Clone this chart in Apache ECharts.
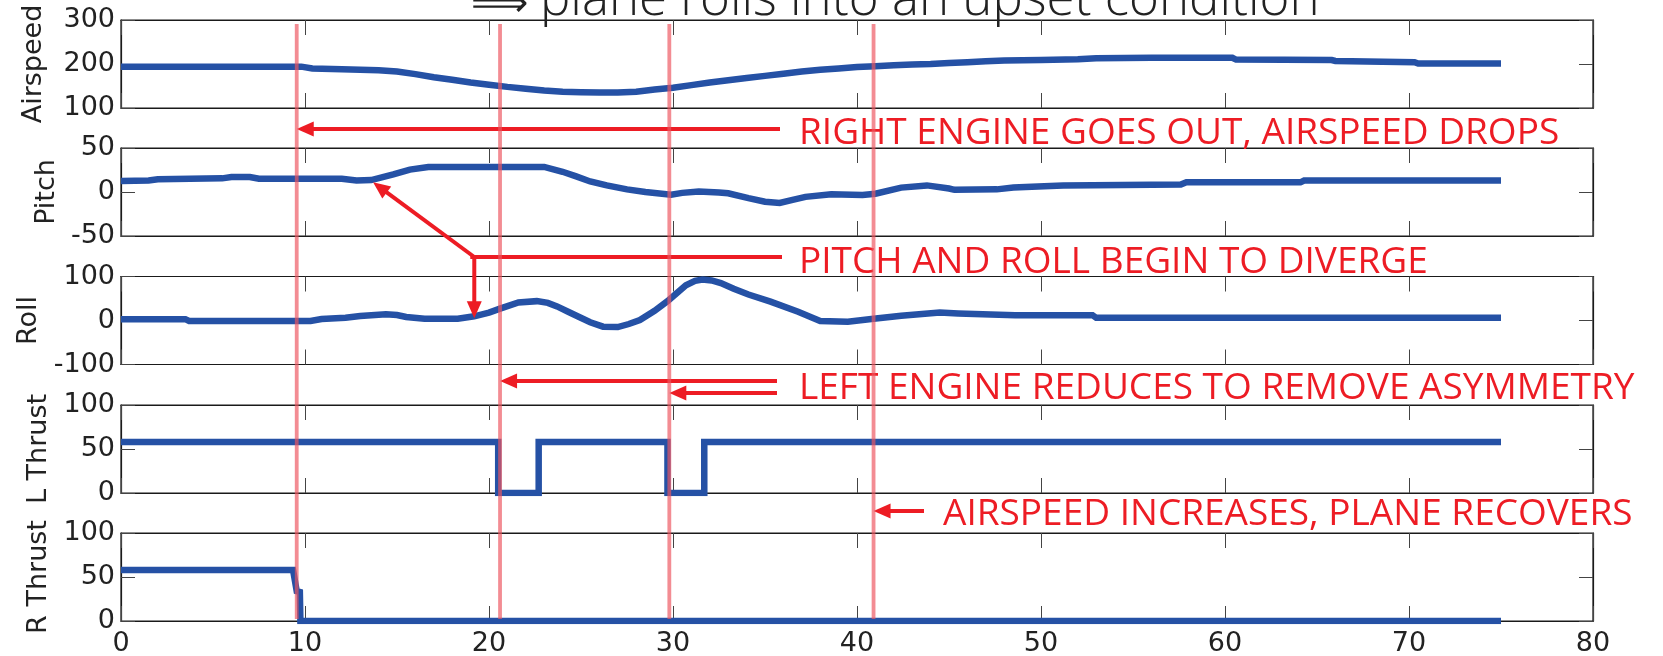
<!DOCTYPE html>
<html>
<head>
<meta charset="utf-8">
<script src="https://cdn.jsdelivr.net/npm/echarts@6/dist/echarts.min.js"></script>
<style>
  html, body { margin: 0; padding: 0; background: #ffffff; }
  #chart { width: 1663px; height: 656px; }
</style>
</head>
<body>
<div id="chart"></div>
<script>
// ---- flight record, time in seconds ----
const airspeedTime  = [0, 9.8, 10.4, 12, 14, 15, 16, 17, 18, 19, 20, 21, 22, 23, 24, 25, 26, 27, 28, 29, 30, 31, 32, 33, 34, 35, 36, 37, 38, 39, 40, 41, 42, 43, 44, 45, 46, 47, 48, 50, 52, 53, 56, 60.4, 60.6, 65.8, 66, 70.3, 70.5, 75];
const airspeedValue = [194, 194, 190, 188, 186, 183, 177, 170, 164, 158, 153, 148, 144, 140, 137, 136, 135, 135, 137, 142, 146, 152, 158, 163, 168, 173, 178, 183, 187, 190, 193, 195, 197, 199, 200, 202, 204, 206, 208, 209, 211, 213, 214, 214, 210, 209, 207, 204, 201, 201];

const pitchTime  = [0, 1.5, 2, 5.5, 6, 7, 7.5, 12, 12.8, 13.6, 14.8, 15.7, 16.7, 23, 24, 24.7, 25.5, 26.4, 27.5, 28.5, 29.9, 30.5, 31.4, 32.5, 33, 34.1, 35, 35.8, 36.5, 37.2, 38.6, 40.3, 41, 42.4, 43.8, 45, 45.3, 47.6, 48.5, 49.5, 51.2, 57.6, 57.9, 64.1, 64.3, 75];
const pitchValue = [12.5, 13, 14.5, 15.5, 17, 17, 15, 15, 13, 13.5, 20, 25.5, 28.5, 28.5, 23, 18, 12, 7.5, 3, 0, -3, -1, 0.5, -0.5, -1.5, -7, -11, -12.5, -9, -5.5, -2.5, -3.5, -2, 5, 7.5, 4, 2.5, 3, 5, 6, 7.5, 8.5, 11, 11, 13, 13];

const rollTime  = [0, 3.5, 3.7, 10.3, 10.9, 12.2, 13, 14.4, 15, 15.5, 16.5, 18.3, 19.2, 20, 20.6, 21.6, 22.6, 23.2, 23.7, 24.3, 24.9, 25.5, 26.2, 27, 27.6, 28.2, 29, 29.7, 30.2, 30.7, 31.2, 31.6, 32.1, 32.6, 33.3, 34.1, 35.3, 36.8, 38, 39.5, 40.9, 42.4, 44.5, 45.5, 48.6, 52.8, 53, 75];
const rollValue = [3, 3, -1, -1, 3.5, 6.5, 10, 14, 12.5, 8, 4, 4, 9.5, 18, 27, 41, 44, 40, 32, 20, 8, -4, -14, -15, -8, 1, 22, 44, 62, 80, 90, 93, 91, 85, 72, 59, 43, 20, -1, -3, 4, 11, 18, 16, 12, 12, 6, 6];

const leftThrustTime  = [0, 20.5, 20.5, 22.7, 22.7, 29.7, 29.7, 31.7, 31.7, 75];
const leftThrustValue = [58, 58, 0, 0, 58, 58, 0, 0, 58, 58];

const rightThrustTime  = [0, 9.35, 9.55, 9.72, 9.75, 75];
const rightThrustValue = [58, 58, 34, 33, 0, 0];

// event markers (s)
const eventTimes = [9.55, 20.6, 29.8, 40.9];

// panels
const panelNames  = ['Airspeed', 'Pitch', 'Roll', 'L Thrust', 'R Thrust'];
const panelRanges = [[100, 300], [-50, 50], [-100, 100], [0, 100], [0, 100]];
const xRange = [0, 80];
const xStep = 10;

// annotation texts and the points the diverge arrows aim at
const titleArrow = '\u27F9';
const titleText = 'plane rolls into an upset condition';
const noteTexts = [
  'RIGHT ENGINE GOES OUT, AIRSPEED DROPS',
  'PITCH AND ROLL BEGIN TO DIVERGE',
  'LEFT ENGINE REDUCES TO REMOVE ASYMMETRY',
  'AIRSPEED INCREASES, PLANE RECOVERS'
];
const divergePitchPoint = [13.7, 11];
const divergeRollPoint  = [19.2, 5];

// ---- layout ----
const PLOT_LEFT = 121, PLOT_RIGHT = 70, PANEL_H = 88;
const panelTops = [20, 148, 276.5, 405, 533];
const nameGaps = [74, 61, 79, 69, 69];
const BLUE = '#2551A5';
const RED = '#ED1C24';
const PINK = 'rgba(238, 86, 96, 0.68)';
const AXIS_COLOR = '#1a1a1a';
const TEXT_COLOR = '#222222';
const TICK_FONT = 'DejaVu Sans';

const zip = (t, v) => t.map((x, i) => [x, v[i]]);
const seriesData = [
  zip(airspeedTime, airspeedValue),
  zip(pitchTime, pitchValue),
  zip(rollTime, rollValue),
  zip(leftThrustTime, leftThrustValue),
  zip(rightThrustTime, rightThrustValue)
];

const grids = [], xAxes = [], yAxes = [], series = [];

panelNames.forEach((name, i) => {
  grids.push({
    left: PLOT_LEFT, right: PLOT_RIGHT, top: panelTops[i], height: PANEL_H,
    show: true, borderColor: AXIS_COLOR, borderWidth: 1.2,
    backgroundColor: 'transparent', outerBoundsMode: 'none', containLabel: false
  });
  const xBase = {
    type: 'value', gridIndex: i, min: xRange[0], max: xRange[1], interval: xStep,
    axisLine: { show: true, onZero: false, lineStyle: { color: AXIS_COLOR, width: 1.2 } },
    axisTick: { show: true, inside: true, length: 15, lineStyle: { color: '#444', width: 1 } },
    splitLine: { show: false }
  };
  xAxes.push(Object.assign({}, xBase, {
    position: 'bottom',
    axisLabel: {
      show: i === panelNames.length - 1, margin: 9,
      fontFamily: TICK_FONT, fontSize: 27, color: TEXT_COLOR,
      showMinLabel: true, showMaxLabel: true
    }
  }));
  xAxes.push(Object.assign({}, xBase, { position: 'top', axisLabel: { show: false } }));

  const [lo, hi] = panelRanges[i];
  const yBase = {
    type: 'value', gridIndex: i, min: lo, max: hi, interval: (hi - lo) / 2,
    axisLine: { show: true, onZero: false, lineStyle: { color: AXIS_COLOR, width: 1.2 } },
    axisTick: { show: true, inside: true, length: 14, lineStyle: { color: '#444', width: 1 } },
    splitLine: { show: false }
  };
  yAxes.push(Object.assign({}, yBase, {
    position: 'left',
    name: name, nameLocation: 'middle', nameGap: nameGaps[i], nameRotate: 90,
    nameTextStyle: { fontFamily: TICK_FONT, fontSize: 27, color: TEXT_COLOR },
    axisLabel: {
      show: true, margin: 6, fontFamily: TICK_FONT, fontSize: 27, color: TEXT_COLOR,
      showMinLabel: true, showMaxLabel: true
    }
  }));
  yAxes.push(Object.assign({}, yBase, { position: 'right', axisLabel: { show: false } }));

  series.push({
    type: 'line', xAxisIndex: 2 * i, yAxisIndex: 2 * i,
    data: seriesData[i], symbol: 'none', showSymbol: false, clip: true,
    lineStyle: { color: BLUE, width: 6.5, join: 'miter', cap: 'butt' },
    z: 3, silent: true
  });
});

// overlay spanning all panels for the event markers
const OVER = panelNames.length;
grids.push({ left: PLOT_LEFT, right: PLOT_RIGHT, top: 24, bottom: 37, show: false, outerBoundsMode: 'none' });
xAxes.push({ type: 'value', gridIndex: OVER, min: xRange[0], max: xRange[1], show: false });
yAxes.push({ type: 'value', gridIndex: OVER, min: 0, max: 1, show: false });
const OX = xAxes.length - 1, OY = yAxes.length - 1;

series.push({
  type: 'custom', xAxisIndex: OX, yAxisIndex: OY, z: 10, silent: true,
  data: eventTimes.map(t => [t, 0]),
  encode: { x: 0, y: 1 },
  renderItem: function (params, api) {
    const t = api.value(0);
    const a = api.coord([t, 1]);
    const b = api.coord([t, 0]);
    return {
      type: 'line',
      shape: { x1: a[0], y1: a[1], x2: b[0], y2: b[1] },
      style: { stroke: PINK, lineWidth: 3.8 }
    };
  }
});

const chart = echarts.init(document.getElementById('chart'), null, { renderer: 'canvas' });
chart.setOption({
  animation: false,
  backgroundColor: '#ffffff',
  grid: grids,
  xAxis: xAxes,
  yAxis: yAxes,
  series: series
});

// ---- annotations ----
function arrowParts(from, to) {
  const dx = to[0] - from[0], dy = to[1] - from[1];
  const len = Math.hypot(dx, dy);
  const ux = dx / len, uy = dy / len;
  const L = 17, W = 7.5;
  const bx = to[0] - ux * L, by = to[1] - uy * L;
  const px = -uy, py = ux;
  return [
    { type: 'line', z: 5, silent: true,
      shape: { x1: from[0], y1: from[1], x2: bx + ux * 3, y2: by + uy * 3 },
      style: { stroke: RED, lineWidth: 4, lineCap: 'butt' } },
    { type: 'polygon', z: 5, silent: true,
      shape: { points: [[to[0], to[1]], [bx + px * W, by + py * W], [bx - px * W, by - py * W]] },
      style: { fill: RED } }
  ];
}

const xPix = t => chart.convertToPixel({ xAxisIndex: OX }, t);

const g = [];
// title line running off the top edge
g.push({ type: 'text', x: 471, y: 6, z: 5, silent: true,
  style: { text: titleArrow, font: '300 40px "DejaVu Sans"', fill: TEXT_COLOR,
           align: 'left', verticalAlign: 'middle', textAlign: 'left', textVerticalAlign: 'middle' } });
g.push({ type: 'text', x: 540, y: 0, z: 5, silent: true,
  style: { text: titleText, font: '300 51px "Open Sans"', fill: TEXT_COLOR,
           align: 'left', verticalAlign: 'middle', textAlign: 'left', textVerticalAlign: 'middle' } });

const notePos = [[799, 133], [799, 262], [799, 388], [943, 514]];
noteTexts.forEach((txt, i) => {
  g.push({ type: 'text', x: notePos[i][0], y: notePos[i][1], z: 5, silent: true,
    style: { text: txt, font: '37px "Open Sans"', fill: RED,
             align: 'left', verticalAlign: 'middle', textAlign: 'left', textVerticalAlign: 'middle' } });
});

// horizontal arrows ending on the event markers
const hArrows = [
  { y: 129, x0: 780, t: eventTimes[0] },
  { y: 381, x0: 777, t: eventTimes[1] },
  { y: 393, x0: 777, t: eventTimes[2] },
  { y: 511, x0: 924, t: eventTimes[3] }
];
hArrows.forEach(a => { g.push(...arrowParts([a.x0, a.y], [xPix(a.t), a.y])); });

// branching arrow to the pitch and roll traces
const pitchTip = chart.convertToPixel({ gridIndex: 1 }, divergePitchPoint);
const rollTip = chart.convertToPixel({ gridIndex: 2 }, divergeRollPoint);
const corner = [rollTip[0], 257];
g.push({ type: 'line', z: 5, silent: true,
  shape: { x1: 780, y1: corner[1], x2: corner[0] - 2, y2: corner[1] },
  style: { stroke: RED, lineWidth: 4, lineCap: 'square' } });
g.push(...arrowParts(corner, pitchTip));
g.push(...arrowParts([corner[0], corner[1] - 2], rollTip));

chart.setOption({ graphic: { elements: g } });
</script>
</body>
</html>
